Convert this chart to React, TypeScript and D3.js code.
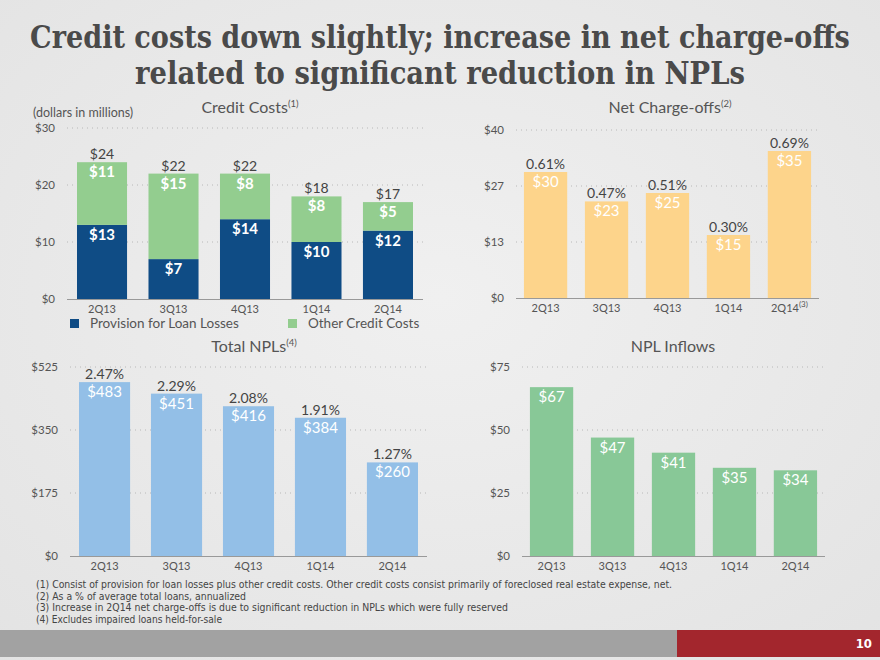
import { useEffect, useRef } from 'react'
import * as d3 from 'd3'

const quarters = ['2Q13', '3Q13', '4Q13', '1Q14', '2Q14']
const provision = [13, 7, 14, 10, 12]
const otherCredit = [11, 15, 8, 8, 5]
const creditTotals = [24, 22, 22, 18, 17]
const netChargeOffs = [30, 23, 25, 15, 35]
const ncoPct = ['0.61%', '0.47%', '0.51%', '0.30%', '0.69%']
const totalNpls = [483, 451, 416, 384, 260]
const nplPct = ['2.47%', '2.29%', '2.08%', '1.91%', '1.27%']
const nplInflows = [67, 47, 41, 35, 34]

const creditTicks = [0, 10, 20, 30]
const ncoTicks = [0, 40 / 3, 80 / 3, 40]
const nplTicks = [0, 175, 350, 525]
const inflowTicks = [0, 25, 50, 75]

const footnotes = [
  '(1)  Consist of provision for loan losses plus other credit costs. Other credit costs consist primarily of foreclosed real estate expense, net.',
  '(2)  As a % of average total loans, annualized',
  '(3)  Increase in 2Q14 net charge-offs is due to significant reduction in NPLs which were fully reserved',
  '(4)  Excludes impaired loans held-for-sale',
]
const footnoteWidths = [636, 210, 472, 186]

const SANS = 'Lato, "Noto Sans", sans-serif'
const NARROW = '"Liberation Sans Narrow", "DejaVu Sans Condensed", sans-serif'
const GREY = '#555'

interface Panel {
  x0: number
  x1: number
  yTop: number
  yBase: number
  max: number
  ticks: number[]
  pad: number
  outer: number
  title: string
  sup?: string
  titleX: number
  titleY: number
}

function drawPanel(svg: d3.Selection<SVGSVGElement, unknown, null, undefined>, p: Panel) {
  const x = d3.scaleBand<string>().domain(quarters).range([p.x0, p.x1]).paddingInner(p.pad).paddingOuter(p.outer)
  const y = d3.scaleLinear().domain([0, p.max]).range([p.yBase, p.yTop])
  const g = svg.append('g')

  // dotted gridlines
  g.selectAll('line.grid')
    .data(p.ticks.slice(1))
    .join('line')
    .attr('x1', p.x0).attr('x2', p.x1)
    .attr('y1', (d) => y(d)).attr('y2', (d) => y(d))
    .attr('stroke', '#b8b8b8')
    .attr('stroke-width', 1)
    .attr('stroke-dasharray', '1,4')

  g.selectAll('text.ytick')
    .data(p.ticks)
    .join('text')
    .attr('x', p.x0 - 12)
    .attr('y', (d) => y(d) + 4)
    .attr('text-anchor', 'end')
    .attr('fill', GREY)
    .attr('font-size', 11.5)
    .attr('font-family', SANS)
    .text((d) => `$${Math.round(d)}`)

  const t = g.append('text')
    .attr('x', p.titleX).attr('y', p.titleY)
    .attr('text-anchor', 'middle')
    .attr('fill', GREY)
    .attr('font-size', 16)
    .attr('font-family', SANS)
  t.append('tspan').text(p.title)
  if (p.sup) t.append('tspan').attr('dy', -6).attr('font-size', 9.5).text(p.sup)

  return { x, y, g }
}

function drawAxis(g: d3.Selection<SVGGElement, unknown, null, undefined>, p: Panel, x: d3.ScaleBand<string>, lastSup?: string) {
  g.append('line')
    .attr('x1', p.x0).attr('x2', p.x1)
    .attr('y1', p.yBase + 0.5).attr('y2', p.yBase + 0.5)
    .attr('stroke', '#999')
    .attr('stroke-width', 1)

  g.selectAll('text.xtick')
    .data(quarters)
    .join('text')
    .attr('x', (d) => (x(d) ?? 0) + x.bandwidth() / 2)
    .attr('y', p.yBase + 14)
    .attr('text-anchor', 'middle')
    .attr('fill', GREY)
    .attr('font-size', 11)
    .attr('font-family', SANS)
    .each(function (d, i) {
      const s = d3.select(this)
      s.append('tspan').text(d)
      if (lastSup && i === quarters.length - 1) s.append('tspan').attr('dy', -5).attr('font-size', 8).text(lastSup)
    })
}

function simpleBars(
  g: d3.Selection<SVGGElement, unknown, null, undefined>,
  x: d3.ScaleBand<string>,
  y: d3.ScaleLinear<number, number>,
  values: number[],
  color: string,
  topLabels: string[] | null,
) {
  const data = values.map((v, i) => ({ q: quarters[i], v, top: topLabels ? topLabels[i] : null }))
  g.selectAll('rect.bar')
    .data(data)
    .join('rect')
    .attr('x', (d) => x(d.q) ?? 0)
    .attr('y', (d) => y(d.v))
    .attr('width', x.bandwidth())
    .attr('height', (d) => y(0) - y(d.v))
    .attr('fill', color)

  g.selectAll('text.inside')
    .data(data)
    .join('text')
    .attr('x', (d) => (x(d.q) ?? 0) + x.bandwidth() / 2)
    .attr('y', (d) => y(d.v) + 15)
    .attr('text-anchor', 'middle')
    .attr('fill', '#fff')
    .attr('font-size', 15)
    .attr('font-family', SANS)
    .text((d) => `$${d.v}`)

  if (topLabels) {
    g.selectAll('text.top')
      .data(data)
      .join('text')
      .attr('x', (d) => (x(d.q) ?? 0) + x.bandwidth() / 2)
      .attr('y', (d) => y(d.v) - 3)
      .attr('text-anchor', 'middle')
      .attr('fill', '#444')
      .attr('font-size', 14)
      .attr('font-family', SANS)
      .text((d) => d.top ?? '')
  }
}

export default function App() {
  const svgRef = useRef<SVGSVGElement>(null)

  useEffect(() => {
    if (!svgRef.current) return
    const svg = d3.select(svgRef.current)
    svg.selectAll('*').remove()

    // background
    const defs = svg.append('defs')
    const bg = defs.append('radialGradient').attr('id', 'paper').attr('cx', '50%').attr('cy', '45%').attr('r', '75%')
    bg.append('stop').attr('offset', '0%').attr('stop-color', '#f0f0f0')
    bg.append('stop').attr('offset', '100%').attr('stop-color', '#e3e3e3')
    svg.append('rect').attr('width', 880).attr('height', 660).attr('fill', 'url(#paper)')

    // title: condensed slab serif, squeezed horizontally to the slide width
    const titleLines = [
      { text: 'Credit costs down slightly; increase in net charge-offs', y: 48, w: 820 },
      { text: 'related to significant reduction in NPLs', y: 84, w: 610 },
    ]
    titleLines.forEach((line) => {
      const tg = svg.append('g')
      const txt = tg.append('text')
        .attr('x', 0).attr('y', 0)
        .attr('text-anchor', 'middle')
        .attr('fill', '#4a4a4a')
        .attr('font-size', 32)
        .attr('font-weight', 'bold')
        .attr('font-family', '"DejaVu Serif Condensed", "DejaVu Serif", serif')
        .text(line.text)
      const natural = (txt.node() as SVGTextElement).getComputedTextLength() || line.w
      tg.attr('transform', `translate(440,${line.y}) scale(${line.w / natural},1)`)
    })

    // Credit costs (stacked)
    const p1: Panel = { x0: 67, x1: 423, yTop: 128, yBase: 299, max: 30, ticks: creditTicks, pad: 0.3, outer: 0.14, title: 'Credit Costs', sup: '(1)', titleX: 250, titleY: 113 }
    const c1 = drawPanel(svg, p1)
    svg.append('text')
      .attr('x', 33).attr('y', 117)
      .attr('fill', GREY).attr('font-size', 12.5).attr('font-family', SANS)
      .text('(dollars in millions)')
    const stackData = quarters.map((q, i) => ({ q, prov: provision[i], other: otherCredit[i], total: creditTotals[i] }))
    const stack = d3.stack<{ q: string; prov: number; other: number; total: number }>().keys(['prov', 'other'])(stackData)
    const stackColors = ['#0f4c85', '#93cd8f']
    stack.forEach((layer, li) => {
      c1.g.selectAll(`rect.s${li}`)
        .data(layer)
        .join('rect')
        .attr('x', (d) => c1.x(d.data.q) ?? 0)
        .attr('y', (d) => c1.y(d[1]))
        .attr('width', c1.x.bandwidth())
        .attr('height', (d) => c1.y(d[0]) - c1.y(d[1]))
        .attr('fill', stackColors[li])
      c1.g.selectAll(`text.s${li}`)
        .data(layer)
        .join('text')
        .attr('x', (d) => (c1.x(d.data.q) ?? 0) + c1.x.bandwidth() / 2)
        .attr('y', (d) => c1.y(d[1]) + 15)
        .attr('text-anchor', 'middle')
        .attr('fill', '#fff')
        .attr('font-size', 15)
        .attr('font-weight', 'bold')
        .attr('font-family', SANS)
        .text((d) => `$${d[1] - d[0]}`)
    })
    c1.g.selectAll('text.total')
      .data(stackData)
      .join('text')
      .attr('x', (d) => (c1.x(d.q) ?? 0) + c1.x.bandwidth() / 2)
      .attr('y', (d) => c1.y(d.total) - 3)
      .attr('text-anchor', 'middle')
      .attr('fill', '#444')
      .attr('font-size', 14)
      .attr('font-family', SANS)
      .text((d) => `$${d.total}`)
    drawAxis(c1.g, p1, c1.x)

    // legend
    const legend = [
      { label: 'Provision for Loan Losses', color: stackColors[0], x: 70 },
      { label: 'Other Credit Costs', color: stackColors[1], x: 288 },
    ]
    const lg = svg.selectAll('g.legend').data(legend).join('g').attr('transform', (d) => `translate(${d.x},319)`)
    lg.append('rect').attr('width', 9).attr('height', 9).attr('fill', (d) => d.color)
    lg.append('text')
      .attr('x', 20).attr('y', 9)
      .attr('fill', GREY).attr('font-size', 13.5).attr('font-family', SANS)
      .text((d) => d.label)

    // Net charge-offs
    const p2: Panel = { x0: 516, x1: 819, yTop: 130, yBase: 298, max: 40, ticks: ncoTicks, pad: 0.29, outer: 0.13, title: 'Net Charge-offs', sup: '(2)', titleX: 670, titleY: 113 }
    const c2 = drawPanel(svg, p2)
    simpleBars(c2.g, c2.x, c2.y, netChargeOffs, '#fdd48b', ncoPct)
    drawAxis(c2.g, p2, c2.x, '(3)')

    // Total NPLs
    const p3: Panel = { x0: 70, x1: 427, yTop: 367, yBase: 556, max: 525, ticks: nplTicks, pad: 0.29, outer: 0.125, title: 'Total NPLs', sup: '(4)', titleX: 254, titleY: 352 }
    const c3 = drawPanel(svg, p3)
    simpleBars(c3.g, c3.x, c3.y, totalNpls, '#93bfe7', nplPct)
    drawAxis(c3.g, p3, c3.x)

    // NPL inflows
    const p4: Panel = { x0: 522, x1: 825, yTop: 367, yBase: 556, max: 75, ticks: inflowTicks, pad: 0.29, outer: 0.13, title: 'NPL Inflows', titleX: 673, titleY: 352 }
    const c4 = drawPanel(svg, p4)
    simpleBars(c4.g, c4.x, c4.y, nplInflows, '#88c897', null)
    drawAxis(c4.g, p4, c4.x)

    // footnotes
    svg.selectAll('text.foot')
      .data(footnotes)
      .join('text')
      .attr('x', 36)
      .attr('y', (_, i) => 588 + i * 11.5)
      .attr('fill', '#444')
      .attr('font-size', 10.5)
      .attr('font-family', NARROW)
      .attr('textLength', (_, i) => footnoteWidths[i])
      .attr('lengthAdjust', 'spacingAndGlyphs')
      .text((d) => d)

    // footer band
    svg.append('rect').attr('x', 0).attr('y', 630).attr('width', 880).attr('height', 27).attr('fill', '#a2a2a2')
    svg.append('rect').attr('x', 677).attr('y', 630).attr('width', 203).attr('height', 27).attr('fill', '#a3262d')
    svg.append('text')
      .attr('x', 872).attr('y', 648)
      .attr('text-anchor', 'end')
      .attr('fill', '#fff')
      .attr('font-size', 13)
      .attr('font-weight', 'bold')
      .attr('font-family', '"DejaVu Sans Condensed", sans-serif')
      .text('10')
  }, [])

  return (
    <div style={{ position: 'absolute', left: 0, top: 0 }}>
      <svg ref={svgRef} width={880} height={660} style={{ display: 'block' }} />
    </div>
  )
}
